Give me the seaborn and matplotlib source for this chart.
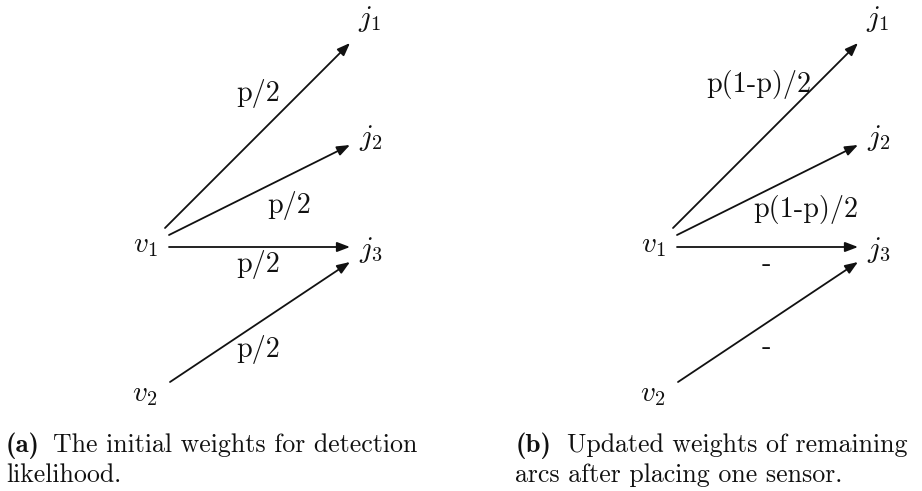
import matplotlib
matplotlib.use("Agg")
import matplotlib.pyplot as plt
from matplotlib.patches import FancyArrowPatch
import seaborn as sns

# ---- data ----
node_names = ["v_1", "v_2", "j_1", "j_2", "j_3"]
edge_sources = ["v_1", "v_1", "v_1", "v_2"]
edge_targets = ["j_1", "j_2", "j_3", "j_3"]
weights_initial = ["p/2", "p/2", "p/2", "p/2"]
weights_updated = ["p(1-p)/2", "p(1-p)/2", "-", "-"]
caption_tags = ["(a)", "(b)"]
caption_line1 = ["The initial weights for detection", "Updated weights of remaining"]
caption_line2 = ["likelihood.", "arcs after placing one sensor."]

# ---- layout (pixel units, y downward) ----
W, H = 922, 491
panel_dx = [0, 508]
node_pos = {"v_1": (145, 246), "v_2": (145, 395),
            "j_1": (370, 19), "j_2": (371, 138), "j_3": (371, 250)}
edge_start = [(165, 228), (169, 235), (169, 247), (170, 382)]
edge_end = [(350, 43), (350, 145), (350, 247), (350, 262)]
label_pos = [[(258, 101), (289, 213), (258, 272), (258, 357)],
             [(251, 92), (298, 217), (258, 271), (258, 354)]]
tag_x = [6, 516]
line1_x = [53, 567]
line2_x = [6, 515]
caption_y = [452, 482]

sns.set_theme(style="white")
plt.rcParams["font.family"] = ["cmr10", "DejaVu Serif"]
plt.rcParams["mathtext.fontset"] = "cm"
plt.rcParams["axes.unicode_minus"] = False

fig = plt.figure(figsize=(W / 100, H / 100), dpi=100)
ax = fig.add_axes([0, 0, 1, 1])
ax.set_xlim(0, W)
ax.set_ylim(H, 0)
ax.axis("off")

NODE_FS = 21
LABEL_FS = 20.3
CAP_FS = 18.6
TAG_FS = 19.4
INK = "#111111"
weights = [weights_initial, weights_updated]

for p, dx in enumerate(panel_dx):
    for name in node_names:
        x, y = node_pos[name]
        ax.text(x + dx, y, f"${name}$", fontsize=NODE_FS, ha="center", va="center",
                color=INK)
    for i in range(len(edge_sources)):
        (x0, y0), (x1, y1) = edge_start[i], edge_end[i]
        arr = FancyArrowPatch((x0 + dx, y0), (x1 + dx, y1),
                              arrowstyle="-|>,head_length=0.55,head_width=0.21",
                              mutation_scale=14, lw=1.3, color=INK,
                              shrinkA=0, shrinkB=0)
        ax.add_patch(arr)
        lx, ly = label_pos[p][i]
        ax.text(lx + dx, ly, weights[p][i], fontsize=LABEL_FS,
                ha="center", va="baseline", color=INK)
    ax.text(tag_x[p], caption_y[0], caption_tags[p], family=["cmb10", "DejaVu Serif"],
            fontsize=TAG_FS, ha="left", va="baseline", color=INK)
    ax.text(line1_x[p], caption_y[0], caption_line1[p],
            fontsize=CAP_FS, ha="left", va="baseline", color=INK)
    ax.text(line2_x[p], caption_y[1], caption_line2[p],
            fontsize=CAP_FS, ha="left", va="baseline", color=INK)

fig.savefig("out.png", dpi=100)
